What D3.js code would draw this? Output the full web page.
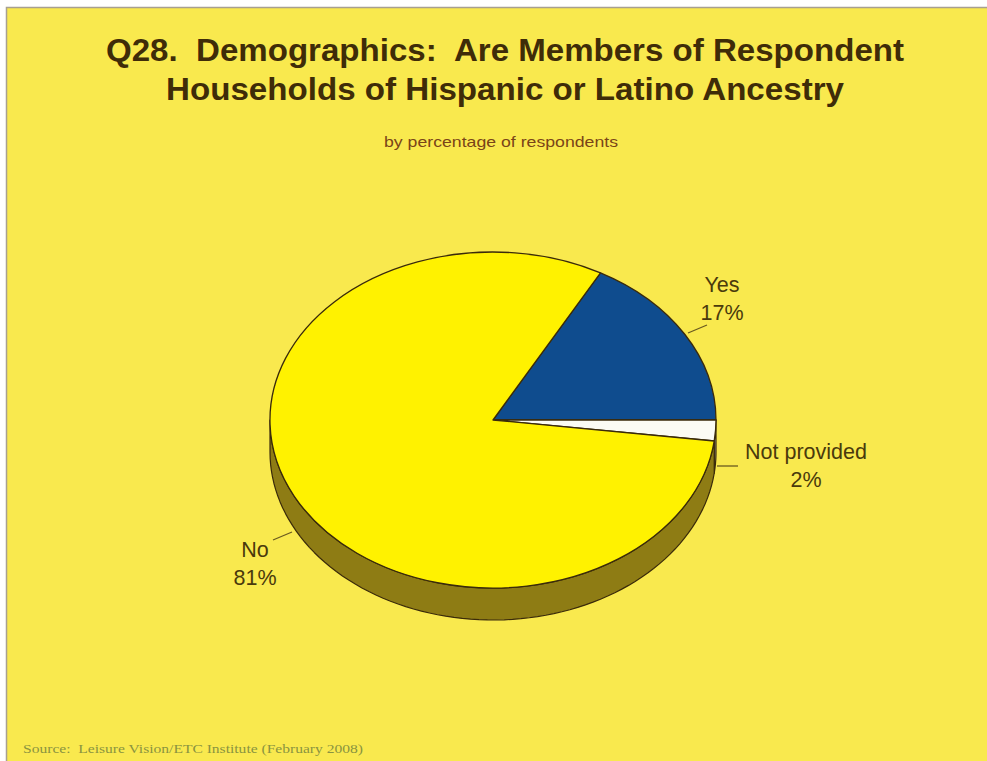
<!DOCTYPE html>
<html><head><meta charset="utf-8">
<script src="https://cdn.jsdelivr.net/npm/d3@7"></script>
<style>html,body{margin:0;padding:0;background:#fff;}svg{display:block;}</style>
</head><body>
<svg id="c" width="987" height="761"></svg>
<script>
const categories = ["Yes", "Not provided", "No"];
const values = [17, 2, 81];
const valueLabels = ["17%", "2%", "81%"];
const sliceColors = ["#0f4c8e", "#fbfbf4", "#fff200"];
const sideColors = ["#0a2f58", "#9a9488", "#8e7c14"];
const titleLines = ["Q28.  Demographics:  Are Members of Respondent", "Households of Hispanic or Latino Ancestry"];
const subtitle = "by percentage of respondents";
const sourceText = "Source:  Leisure Vision/ETC Institute (February 2008)";

const W = 987, H = 761;
const svg = d3.select("#c");
svg.append("rect").attr("x", 0).attr("y", 0).attr("width", W).attr("height", H).attr("fill", "#ffffff");
svg.append("rect").attr("x", 6).attr("y", 7).attr("width", W - 6).attr("height", H - 7).attr("fill", "#f9e94e");
svg.append("path").attr("d", `M6.5,${H} V7.5 H${W}`).attr("fill", "none").attr("stroke", "#a8a090").attr("stroke-width", 1.5);

// titles
const ink = "#3f2c08";
svg.append("g").selectAll("text").data(titleLines).join("text")
  .attr("x", 505).attr("y", (d, i) => 61 + i * 39)
  .attr("text-anchor", "middle").attr("font-family", "Liberation Sans, Arial, sans-serif")
  .attr("font-weight", "bold").attr("font-size", 31).attr("fill", ink)
  .attr("textLength", (d, i) => i === 0 ? 798 : 678).attr("lengthAdjust", "spacingAndGlyphs")
  .style("white-space", "pre").text(d => d);
svg.append("text").attr("x", 501).attr("y", 147).attr("text-anchor", "middle")
  .attr("font-family", "Liberation Sans, Arial, sans-serif").attr("font-size", 14.5)
  .attr("fill", "#7a4418").attr("textLength", 234).attr("lengthAdjust", "spacingAndGlyphs").text(subtitle);
svg.append("text").attr("x", 23).attr("y", 753)
  .attr("font-family", "Liberation Serif, Times New Roman, serif").attr("font-size", 12.5)
  .attr("fill", "#8a9440").attr("textLength", 340).attr("lengthAdjust", "spacingAndGlyphs")
  .style("white-space", "pre").text(sourceText);

// pie geometry
const cx = 493, cy = 420, rx = 223, ry = 168, depth = 32;
const total = d3.sum(values);
const start = Math.PI / 2 - (values[0] / total) * 2 * Math.PI;
const pie = d3.pie().sort(null).value(d => d).startAngle(start).endAngle(start + 2 * Math.PI);
const arcs = pie(values);
const ex = a => cx + rx * Math.sin(a);
const ey = a => cy - ry * Math.cos(a);

// sides (front half: angles from PI/2 to 3PI/2)
const sideG = svg.append("g");
arcs.forEach((d, i) => {
  const ranges = [];
  for (const k of [0, 1]) {
    const lo = Math.PI / 2 + k * 2 * Math.PI, hi = 3 * Math.PI / 2 + k * 2 * Math.PI;
    const a0 = Math.max(d.startAngle, lo), a1 = Math.min(d.endAngle, hi);
    if (a1 > a0) ranges.push([a0, a1]);
  }
  ranges.forEach(([a0, a1]) => {
    const n = 80;
    const top = d3.range(n + 1).map(j => a0 + (a1 - a0) * j / n);
    const p = d3.path();
    p.moveTo(ex(top[0]), ey(top[0]));
    top.forEach(a => p.lineTo(ex(a), ey(a)));
    top.slice().reverse().forEach(a => p.lineTo(ex(a), ey(a) + depth));
    p.closePath();
    sideG.append("path").attr("d", p.toString()).attr("fill", sideColors[i])
      .attr("stroke", "#3a2a0a").attr("stroke-width", 1.2).attr("stroke-linejoin", "round");
  });
});

// top faces
const arc = d3.arc().innerRadius(0).outerRadius(1);
svg.append("g").attr("transform", `translate(${cx},${cy}) scale(${rx},${ry})`)
  .selectAll("path").data(arcs).join("path")
  .attr("d", arc).attr("fill", (d, i) => sliceColors[i])
  .attr("stroke", "#3a2a0a").attr("stroke-width", 1.3).attr("vector-effect", "non-scaling-stroke")
  .attr("stroke-linejoin", "round");

// labels with leader lines (layout only)
const labelLayout = [
  { lx: 722, ly: 292, line: [[688, 333], [707, 325]] },
  { lx: 806, ly: 459, line: [[717, 466], [738, 466]] },
  { lx: 255, ly: 557, line: [[273, 540], [292, 532]] }
];
const lg = svg.append("g").attr("font-family", "Liberation Sans, Arial, sans-serif").attr("font-size", 21.5).attr("fill", "#4a3a0c");
categories.forEach((c, i) => {
  const L = labelLayout[i];
  lg.append("path").attr("d", d3.line()(L.line)).attr("stroke", "#6a5a20").attr("stroke-width", 1.3).attr("fill", "none");
  const t = lg.append("text").attr("text-anchor", "middle");
  t.append("tspan").attr("x", L.lx).attr("y", L.ly).text(c);
  t.append("tspan").attr("x", L.lx).attr("y", L.ly + 28).text(valueLabels[i]);
});
</script>
</body></html>
